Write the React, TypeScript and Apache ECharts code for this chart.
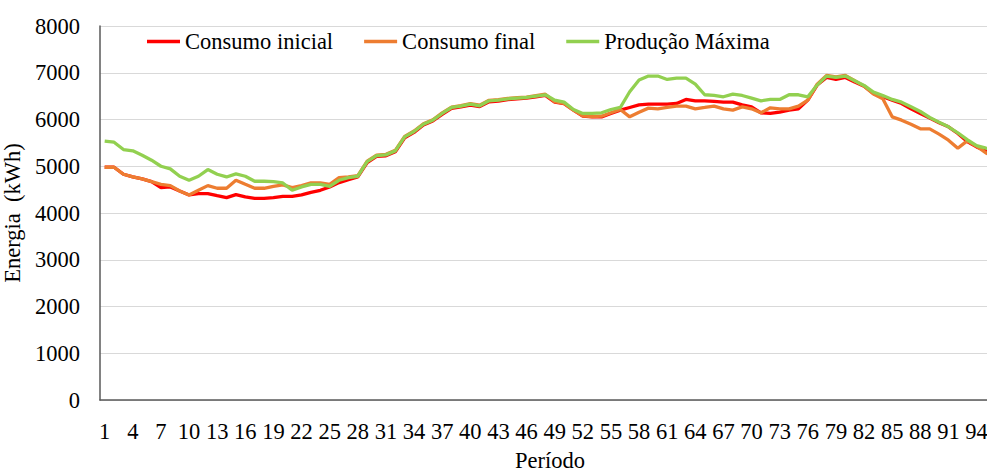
import React, { useEffect, useRef } from "react";
import * as echarts from "echarts";

const periods = [
  "1","2","3","4","5","6","7","8","9","10","11","12","13","14","15","16","17","18","19","20",
  "21","22","23","24","25","26","27","28","29","30","31","32","33","34","35","36","37","38","39","40",
  "41","42","43","44","45","46","47","48","49","50","51","52","53","54","55","56","57","58","59","60",
  "61","62","63","64","65","66","67","68","69","70","71","72","73","74","75","76","77","78","79","80",
  "81","82","83","84","85","86","87","88","89","90","91","92","93","94","95","96",
];

const consumoInicial = [
  4979, 4979, 4829, 4771, 4729, 4671, 4543, 4557, 4471, 4386,
  4414, 4414, 4371, 4329, 4393, 4343, 4314, 4314, 4329, 4357,
  4357, 4386, 4443, 4486, 4557, 4650, 4714, 4771, 5080, 5210,
  5225, 5310, 5610, 5725, 5885, 5970, 6110, 6240, 6270, 6310,
  6275, 6380, 6395, 6425, 6440, 6455, 6485, 6515, 6370, 6340,
  6200, 6070, 6057, 6057, 6129, 6200, 6257, 6314, 6329, 6329,
  6329, 6343, 6429, 6400, 6400, 6386, 6371, 6371, 6314, 6271,
  6143, 6129, 6157, 6200, 6229, 6414, 6736, 6900, 6857, 6900,
  6800, 6714, 6557, 6486, 6414, 6343, 6229, 6129, 6029, 5929,
  5843, 5700, 5529, 5414, 5329, 5250,
];

const consumoFinal = [
  4979, 4979, 4829, 4771, 4729, 4671, 4614, 4586, 4471, 4386,
  4486, 4586, 4529, 4529, 4700, 4614, 4529, 4529, 4571, 4600,
  4543, 4586, 4643, 4643, 4614, 4757, 4771, 4800, 5110, 5240,
  5255, 5340, 5640, 5755, 5910, 5995, 6140, 6265, 6295, 6340,
  6305, 6410, 6425, 6450, 6465, 6480, 6510, 6540, 6380, 6343,
  6200, 6080, 6060, 6071, 6143, 6214, 6057, 6157, 6243, 6229,
  6257, 6286, 6286, 6229, 6257, 6286, 6229, 6200, 6271, 6229,
  6143, 6250, 6229, 6229, 6286, 6414, 6757, 6943, 6914, 6943,
  6829, 6714, 6543, 6443, 6057, 5986, 5900, 5800, 5800, 5686,
  5557, 5386, 5543, 5429, 5286, 5200,
];

const producaoMaxima = [
  5536, 5514, 5357, 5329, 5236, 5129, 5000, 4943, 4786, 4700,
  4786, 4929, 4829, 4771, 4836, 4786, 4679, 4679, 4671, 4643,
  4486, 4557, 4614, 4614, 4571, 4700, 4757, 4786, 5100, 5229,
  5243, 5329, 5629, 5743, 5900, 5986, 6129, 6257, 6286, 6329,
  6293, 6400, 6414, 6443, 6457, 6471, 6500, 6529, 6414, 6371,
  6214, 6129, 6129, 6143, 6214, 6257, 6593, 6843, 6929, 6929,
  6857, 6886, 6886, 6757, 6529, 6514, 6486, 6543, 6514, 6457,
  6400, 6429, 6429, 6529, 6529, 6486, 6736, 6929, 6900, 6929,
  6829, 6729, 6586, 6514, 6429, 6371, 6271, 6171, 6043, 5943,
  5843, 5714, 5571, 5443, 5386, 5330,
];

const seriesNames = ["Consumo inicial", "Consumo final", "Produção Máxima"];
const seriesColors = ["#FF0000", "#ED7D31", "#92D050"];

const FONT = "'Liberation Serif', 'Times New Roman', serif";
const FS = 22.5;
const LW = 3.3;

export default function App() {
  const ref = useRef<HTMLDivElement>(null);

  useEffect(() => {
    if (!ref.current) return;
    const chart = echarts.init(ref.current, undefined, { renderer: "svg" });
    const dataSets = [consumoInicial, consumoFinal, producaoMaxima];
    chart.setOption({
      animation: false,
      backgroundColor: "#FFFFFF",
      textStyle: { fontFamily: FONT },
      grid: {
        left: 100,
        right: -13,
        top: 26,
        bottom: 72,
        containLabel: false,
        outerBoundsMode: "none",
      },
      legend: {
        left: 142,
        top: 25,
        icon: "rect",
        itemWidth: 33,
        itemHeight: 3.3,
        itemGap: 31,
        textStyle: { fontFamily: FONT, fontSize: FS, color: "#000000" },
        data: seriesNames,
      },
      xAxis: {
        type: "category",
        boundaryGap: true,
        data: periods,
        name: "Período",
        nameLocation: "middle",
        nameGap: 49,
        nameTextStyle: { fontFamily: FONT, fontSize: FS, color: "#000000" },
        axisLine: { show: true, lineStyle: { color: "#595959", width: 1.5 } },
        axisTick: { show: false },
        axisLabel: {
          interval: 2,
          margin: 20,
          fontFamily: FONT,
          fontSize: FS,
          color: "#000000",
          hideOverlap: false,
        },
        splitLine: { show: false },
      },
      yAxis: {
        type: "value",
        min: 0,
        max: 8000,
        interval: 1000,
        name: "Energia  (kWh)",
        nameLocation: "middle",
        nameGap: 67,
        nameTextStyle: { fontFamily: FONT, fontSize: FS, color: "#000000" },
        axisLine: { show: true, lineStyle: { color: "#595959", width: 1.5 } },
        axisTick: { show: false },
        axisLabel: {
          margin: 20,
          fontFamily: FONT,
          fontSize: FS,
          color: "#000000",
          formatter: (v: number) => String(v),
        },
        splitLine: { show: true, lineStyle: { color: "#D9D9D9", width: 1 } },
      },
      series: dataSets.map((d, i) => ({
        name: seriesNames[i],
        type: "line",
        data: d,
        symbol: "none",
        showSymbol: false,
        smooth: false,
        color: seriesColors[i],
        lineStyle: { color: seriesColors[i], width: LW },
        z: 2 + i,
      })),
    });
    return () => chart.dispose();
  }, []);

  return (
    <div
      ref={ref}
      style={{ position: "fixed", left: 0, top: 0, width: 987, height: 472, background: "#fff" }}
    />
  );
}
